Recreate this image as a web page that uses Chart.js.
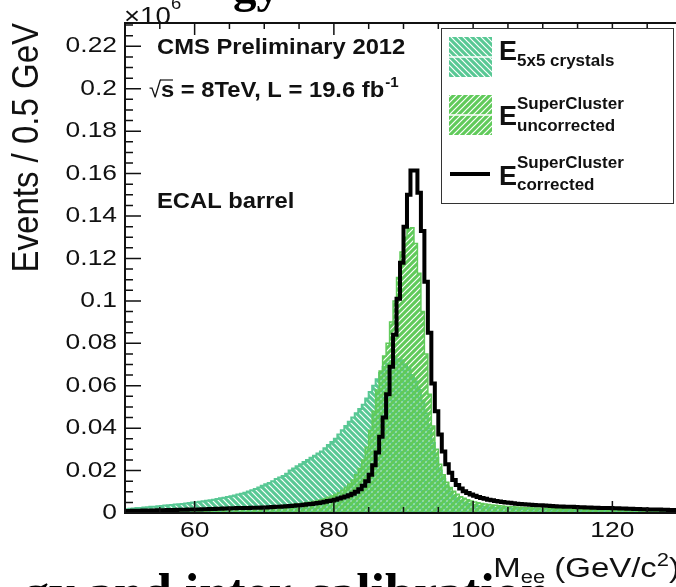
<!DOCTYPE html>
<html>
<head>
<meta charset="utf-8">
<script src="https://cdn.jsdelivr.net/npm/chart.js@4/dist/chart.umd.min.js"></script>
<style>
  html, body { margin: 0; padding: 0; width: 676px; height: 587px; overflow: hidden; background: #fff; }
  #wrap { position: relative; width: 690px; height: 587px; }
  canvas { position: absolute; left: 0; top: 0; }
  .slide { position: absolute; font-family: "Liberation Serif", serif; font-weight: bold; color: #000; white-space: nowrap; line-height: 1; }
</style>
</head>
<body>
<div id="wrap">
  <canvas id="myChart" width="690" height="587" style="width:690px;height:587px"></canvas>
  <div class="slide" style="left:233px; top:-37px; font-size:47px;">gy</div>
  <div class="slide" style="left:23px; top:567px; font-size:52px;">gy and inter-calibration</div>
</div>
<script>
// BINNING: 0.5 GeV BINS FROM 50 TO 130 GEV
const massLow = 50;
const binWidth = 0.5;

// E 5x5 CRYSTALS (TEAL), ONE VALUE PER BIN, x10^6 EVENTS
const e5x5 = [
	0.0018, 0.0020, 0.0021, 0.0023, 0.0024, 0.0026, 0.0027, 0.0029, 0.0030, 0.0032,
	0.0033, 0.0035, 0.0036, 0.0038, 0.0040, 0.0041, 0.0043, 0.0045, 0.0047, 0.0049,
	0.0051, 0.0053, 0.0055, 0.0058, 0.0060, 0.0063, 0.0066, 0.0069, 0.0072, 0.0075,
	0.0079, 0.0083, 0.0087, 0.0091, 0.0096, 0.0101, 0.0107, 0.0113, 0.0120, 0.0128,
	0.0135, 0.0142, 0.0150, 0.0160, 0.0167, 0.0175, 0.0185, 0.0200, 0.0210, 0.0220,
	0.0230, 0.0240, 0.0250, 0.0260, 0.0270, 0.0280, 0.0290, 0.0305, 0.0320, 0.0335,
	0.0350, 0.0370, 0.0390, 0.0410, 0.0430, 0.0450, 0.0470, 0.0490, 0.0510, 0.0540,
	0.0570, 0.0600, 0.0630, 0.0660, 0.0690, 0.0705, 0.0715, 0.0720, 0.0725, 0.0720,
	0.0700, 0.0680, 0.0650, 0.0620, 0.0580, 0.0530, 0.0470, 0.0400, 0.0330, 0.0260,
	0.0200, 0.0160, 0.0125, 0.0100, 0.0082, 0.0068, 0.0058, 0.0050, 0.0044, 0.0040,
	0.0036, 0.0033, 0.0031, 0.0029, 0.0027, 0.0026, 0.0025, 0.0024, 0.0023, 0.0022,
	0.0021, 0.0021, 0.0020, 0.0020, 0.0019, 0.0019, 0.0018, 0.0018, 0.0017, 0.0017,
	0.0016, 0.0016, 0.0016, 0.0015, 0.0015, 0.0015, 0.0014, 0.0014, 0.0014, 0.0013,
	0.0013, 0.0013, 0.0013, 0.0012, 0.0012, 0.0012, 0.0012, 0.0011, 0.0011, 0.0011,
	0.0011, 0.0011, 0.0010, 0.0010, 0.0010, 0.0010, 0.0010, 0.0009, 0.0009, 0.0009,
	0.0009, 0.0009, 0.0009, 0.0008, 0.0008, 0.0008, 0.0008, 0.0008, 0.0008, 0.0007,
];

// E SUPERCLUSTER UNCORRECTED (GREEN)
const scUncorrected = [
	0.0011, 0.0011, 0.0011, 0.0012, 0.0012, 0.0012, 0.0013, 0.0013, 0.0013, 0.0014,
	0.0014, 0.0014, 0.0015, 0.0015, 0.0015, 0.0016, 0.0016, 0.0016, 0.0017, 0.0017,
	0.0018, 0.0018, 0.0018, 0.0019, 0.0019, 0.0020, 0.0020, 0.0021, 0.0021, 0.0022,
	0.0022, 0.0023, 0.0023, 0.0024, 0.0024, 0.0025, 0.0026, 0.0026, 0.0027, 0.0028,
	0.0029, 0.0030, 0.0031, 0.0032, 0.0033, 0.0035, 0.0036, 0.0038, 0.0040, 0.0042,
	0.0044, 0.0046, 0.0049, 0.0052, 0.0055, 0.0059, 0.0063, 0.0068, 0.0074, 0.0080,
	0.0087, 0.0096, 0.0107, 0.0120, 0.0135, 0.0155, 0.0180, 0.0210, 0.0250, 0.0310,
	0.0390, 0.0480, 0.0580, 0.0670, 0.0740, 0.0800, 0.0900, 0.1000, 0.1110, 0.1230,
	0.1300, 0.1340, 0.1345, 0.1270, 0.1130, 0.0950, 0.0750, 0.0560, 0.0410, 0.0300,
	0.0230, 0.0180, 0.0145, 0.0120, 0.0102, 0.0088, 0.0077, 0.0069, 0.0062, 0.0057,
	0.0052, 0.0048, 0.0045, 0.0042, 0.0040, 0.0038, 0.0036, 0.0034, 0.0033, 0.0031,
	0.0030, 0.0029, 0.0028, 0.0027, 0.0026, 0.0025, 0.0025, 0.0024, 0.0023, 0.0023,
	0.0022, 0.0022, 0.0021, 0.0021, 0.0020, 0.0020, 0.0019, 0.0019, 0.0019, 0.0018,
	0.0018, 0.0018, 0.0017, 0.0017, 0.0017, 0.0016, 0.0016, 0.0016, 0.0016, 0.0015,
	0.0015, 0.0015, 0.0015, 0.0014, 0.0014, 0.0014, 0.0014, 0.0013, 0.0013, 0.0013,
	0.0013, 0.0013, 0.0012, 0.0012, 0.0012, 0.0012, 0.0012, 0.0011, 0.0011, 0.0011,
];

// E SUPERCLUSTER CORRECTED (BLACK LINE)
const scCorrected = [
	0.0010, 0.0010, 0.0011, 0.0011, 0.0011, 0.0012, 0.0012, 0.0012, 0.0012, 0.0013,
	0.0013, 0.0013, 0.0014, 0.0014, 0.0014, 0.0015, 0.0015, 0.0015, 0.0016, 0.0016,
	0.0017, 0.0017, 0.0018, 0.0018, 0.0019, 0.0019, 0.0020, 0.0020, 0.0021, 0.0021,
	0.0022, 0.0022, 0.0023, 0.0023, 0.0024, 0.0024, 0.0025, 0.0025, 0.0025, 0.0026,
	0.0026, 0.0027, 0.0028, 0.0029, 0.0030, 0.0031, 0.0032, 0.0033, 0.0034, 0.0036,
	0.0037, 0.0039, 0.0041, 0.0043, 0.0045, 0.0047, 0.0050, 0.0053, 0.0056, 0.0059,
	0.0063, 0.0068, 0.0073, 0.0078, 0.0084, 0.0091, 0.0100, 0.0112, 0.0128, 0.0150,
	0.0180, 0.0225, 0.0285, 0.0360, 0.0450, 0.0560, 0.0690, 0.0840, 0.1010, 0.1180,
	0.1350, 0.1500, 0.1615, 0.1615, 0.1510, 0.1330, 0.1090, 0.0850, 0.0610, 0.0480,
	0.0370, 0.0290, 0.0230, 0.0190, 0.0155, 0.0132, 0.0115, 0.0103, 0.0094, 0.0087,
	0.0081, 0.0076, 0.0071, 0.0067, 0.0063, 0.0060, 0.0057, 0.0054, 0.0052, 0.0050,
	0.0048, 0.0046, 0.0044, 0.0043, 0.0041, 0.0040, 0.0039, 0.0038, 0.0037, 0.0036,
	0.0035, 0.0034, 0.0033, 0.0032, 0.0031, 0.0031, 0.0030, 0.0029, 0.0029, 0.0028,
	0.0027, 0.0027, 0.0026, 0.0026, 0.0025, 0.0025, 0.0024, 0.0024, 0.0023, 0.0023,
	0.0022, 0.0022, 0.0021, 0.0021, 0.0020, 0.0020, 0.0019, 0.0019, 0.0018, 0.0018,
	0.0017, 0.0017, 0.0016, 0.0016, 0.0015, 0.0015, 0.0014, 0.0014, 0.0013, 0.0013,
];

// AXIS LABELS
const xTicks = [60, 80, 100, 120];
const yTicks = [0, 0.02, 0.04, 0.06, 0.08, 0.1, 0.12, 0.14, 0.16, 0.18, 0.2, 0.22];
const xMinorStep = 5;
const yMinorStep = 0.005;

const tealColor = "rgb(88, 200, 148)";
const greenColor = "rgb(96, 202, 90)";

// TURN BIN CONTENTS INTO STEP POINTS AT THE LOW EDGES (+ LAST EDGE)
function toSteps(vals) {
	let pts = vals.map((v, i) => ({ x: massLow + i * binWidth, y: v }));
	pts.push({ x: massLow + vals.length * binWidth, y: vals[vals.length - 1] });
	return pts;
}

// HATCH PATTERN: COLOURED TILE WITH A THIN TRANSPARENT DIAGONAL GAP
function hatch(color, dir) {
	const p = 6;
	const c = document.createElement("canvas");
	c.width = p;
	c.height = p;
	const g = c.getContext("2d");
	g.fillStyle = color;
	g.fillRect(0, 0, p, p);
	g.globalCompositeOperation = "destination-out";
	g.lineWidth = 1.2;
	g.beginPath();
	for (let k = -1; k <= 1; k++) {
		if (dir > 0) {
			g.moveTo(k * p - 1, p + 1);
			g.lineTo(k * p + p + 1, -1);
		} else {
			g.moveTo(k * p - 1, -1);
			g.lineTo(k * p + p + 1, p + 1);
		}
	}
	g.stroke();
	return g.createPattern(c, "repeat");
}

const tealHatch = hatch(tealColor, -1);
const greenHatch = hatch(greenColor, 1);

// TEXT HELPER WITH A HORIZONTAL STRETCH
function txt(ctx, s, x, y, font, align, sx, base) {
	ctx.save();
	ctx.font = font;
	ctx.textAlign = align || "left";
	ctx.textBaseline = base || "alphabetic";
	ctx.translate(x, y);
	ctx.scale(sx || 1, 1);
	ctx.fillText(s, 0, 0);
	ctx.restore();
}

function fmt(v) {
	return String(parseFloat(v.toFixed(3)));
}

const rootStyle = {
	id: "rootStyle",
	afterDatasetsDraw(chart) {
		const ctx = chart.ctx;
		const a = chart.chartArea;
		const x = chart.scales.x;
		const y = chart.scales.y;
		ctx.save();
		ctx.fillStyle = "#111";
		ctx.strokeStyle = "#111";

		// TICKS INSIDE THE FRAME
		ctx.lineWidth = 1.5;
		ctx.beginPath();
		for (let v = x.min; v <= x.max; v += xMinorStep) {
			const px = x.getPixelForValue(v);
			const len = xTicks.includes(v) ? 12 : 6;
			ctx.moveTo(px, a.bottom);
			ctx.lineTo(px, a.bottom - len);
			ctx.moveTo(px, a.top);
			ctx.lineTo(px, a.top + len);
		}
		for (let k = 0; k * yMinorStep <= y.max; k++) {
			const py = y.getPixelForValue(k * yMinorStep);
			const len = k % 4 === 0 ? 16 : 8;
			ctx.moveTo(a.left, py);
			ctx.lineTo(a.left + len, py);
		}
		ctx.stroke();

		// FRAME
		ctx.lineWidth = 2;
		ctx.strokeRect(a.left, a.top, a.right - a.left, a.bottom - a.top);

		// TICK LABELS
		yTicks.forEach((v) => {
			txt(ctx, fmt(v), a.left - 8, y.getPixelForValue(v), '22px "Liberation Sans"', "right", 1.2, "middle");
		});
		xTicks.forEach((v) => {
			txt(ctx, fmt(v), x.getPixelForValue(v), a.bottom + 18, '22px "Liberation Sans"', "center", 1.2, "middle");
		});
		txt(ctx, "\u00d710", a.left - 1, 24, '24px "Liberation Sans"', "left", 1.15);
		txt(ctx, "6", a.left + 46, 9, '16px "Liberation Sans"', "left", 1.15);

		// Y TITLE (ROOT STYLE: ENDS AT THE TOP OF THE AXIS)
		ctx.save();
		ctx.translate(38, a.top);
		ctx.rotate(-Math.PI / 2);
		ctx.scale(1, 1.1);
		ctx.font = '33px "Liberation Sans"';
		ctx.textAlign = "right";
		ctx.fillText("Events / 0.5 GeV", 0, 0);
		ctx.restore();

		// X TITLE (ENDS AT THE RIGHT OF THE AXIS)
		const tsx = 1.22;
		const parts = [
			["M", '27px "Liberation Sans"', 0],
			["ee", '18px "Liberation Sans"', 6],
			[" (GeV/c", '27px "Liberation Sans"', 0],
			["2", '18px "Liberation Sans"', -11],
			[")", '27px "Liberation Sans"', 0],
		];
		let total = 0;
		parts.forEach((p) => {
			ctx.font = p[1];
			total += ctx.measureText(p[0]).width * tsx;
		});
		let cx = a.right - 2 - total;
		parts.forEach((p) => {
			txt(ctx, p[0], cx, 577 + p[2], p[1], "left", tsx);
			ctx.font = p[1];
			cx += ctx.measureText(p[0]).width * tsx;
		});

		// ANNOTATIONS
		const bold = 'bold 22px "Liberation Sans"';
		const bsx = 1.08;
		txt(ctx, "CMS Preliminary 2012", 157, 54, bold, "left", bsx);
		txt(ctx, "\u221a", 149, 97, '22px "Liberation Sans"');
		ctx.lineWidth = 1.2;
		ctx.beginPath();
		ctx.moveTo(160, 80);
		ctx.lineTo(173, 80);
		ctx.stroke();
		txt(ctx, "s = 8TeV, L = 19.6 fb", 161, 97, bold, "left", bsx);
		ctx.font = bold;
		const w = ctx.measureText("s = 8TeV, L = 19.6 fb").width * bsx;
		txt(ctx, "-1", 161 + w + 1, 87, 'bold 14px "Liberation Sans"', "left", bsx);
		txt(ctx, "ECAL barrel", 157, 208, bold, "left", bsx);

		// LEGEND
		ctx.fillStyle = "#fff";
		ctx.fillRect(441, 28, 232, 175);
		ctx.strokeStyle = "#333";
		ctx.lineWidth = 1;
		ctx.strokeRect(441.5, 28.5, 232, 175);

		ctx.fillStyle = tealHatch;
		ctx.fillRect(449, 37, 43, 40);
		ctx.fillStyle = greenHatch;
		ctx.fillRect(449, 95, 43, 40);
		ctx.strokeStyle = "#fff";
		ctx.lineWidth = 1.5;
		ctx.beginPath();
		ctx.moveTo(449, 57);
		ctx.lineTo(492, 57);
		ctx.moveTo(449, 115);
		ctx.lineTo(492, 115);
		ctx.stroke();
		ctx.strokeStyle = "#000";
		ctx.lineWidth = 4;
		ctx.beginPath();
		ctx.moveTo(450, 174);
		ctx.lineTo(490, 174);
		ctx.stroke();

		ctx.fillStyle = "#111";
		const bigE = 'bold 27px "Liberation Sans"';
		const small = 'bold 17px "Liberation Sans"';
		txt(ctx, "E", 499, 60, bigE);
		txt(ctx, "5x5 crystals", 517, 66, small);
		txt(ctx, "E", 499, 125, bigE);
		txt(ctx, "SuperCluster", 517, 109, small);
		txt(ctx, "uncorrected", 517, 131, small);
		txt(ctx, "E", 499, 185, bigE);
		txt(ctx, "SuperCluster", 517, 168, small);
		txt(ctx, "corrected", 517, 190, small);

		ctx.restore();
	},
};

// CHART
const ctx = document.getElementById("myChart").getContext("2d");
const myChart = new Chart(ctx, {
	type: "line",
	data: {
		datasets: [
			{
				label: "E SuperCluster corrected",
				data: toSteps(scCorrected),
				stepped: "before",
				borderColor: "#000",
				borderWidth: 4,
				fill: false,
				order: 0,
			},
			{
				label: "E SuperCluster uncorrected",
				data: toSteps(scUncorrected),
				stepped: "before",
				borderColor: greenColor,
				borderWidth: 1.5,
				backgroundColor: greenHatch,
				fill: "origin",
				order: 1,
			},
			{
				label: "E 5x5 crystals",
				data: toSteps(e5x5),
				stepped: "before",
				borderColor: tealColor,
				borderWidth: 2,
				backgroundColor: tealHatch,
				fill: "origin",
				order: 2,
			},
		],
	},
	options: {
		animation: false,
		responsive: false,
		devicePixelRatio: 1,
		layout: { padding: { left: 0, right: 8, top: 23, bottom: 34 } },
		elements: { point: { radius: 0 }, line: { tension: 0 } },
		plugins: { legend: { display: false }, tooltip: { enabled: false } },
		scales: {
			x: {
				type: "linear",
				min: 50,
				max: 130,
				grid: { display: false },
				border: { display: false },
				ticks: { display: false },
				afterFit: (s) => { s.height = 40; },
			},
			y: {
				min: 0,
				max: 0.231,
				grid: { display: false },
				border: { display: false },
				ticks: { display: false },
				afterFit: (s) => { s.width = 125; },
			},
		},
	},
	plugins: [rootStyle],
});
</script>
</body>
</html>
